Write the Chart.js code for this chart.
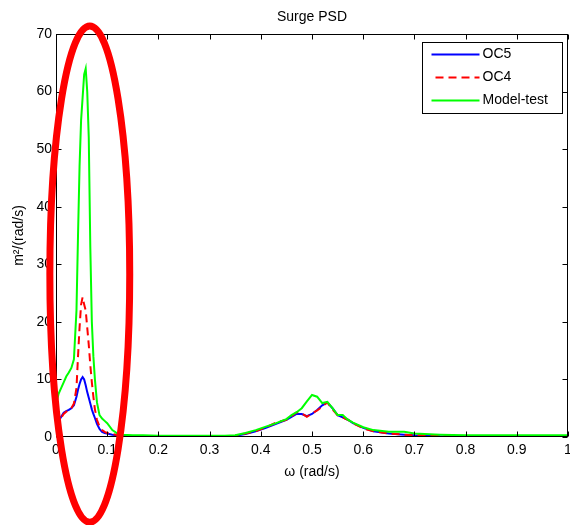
<!DOCTYPE html>
<html>
<head>
<meta charset="utf-8">
<script src="https://cdn.jsdelivr.net/npm/chart.js@4/dist/chart.umd.min.js"></script>
<style>body{margin:0;background:#fff}</style>
</head>
<body>
<canvas id="psd" width="570" height="525"></canvas>
<script>
// frequency axis (rad/s)
const omega = [0, 0.005, 0.01, 0.015, 0.02, 0.025, 0.03, 0.035, 0.04, 0.043, 0.046, 0.049, 0.052, 0.055, 0.058, 0.061, 0.064, 0.067, 0.07, 0.073, 0.076, 0.08, 0.085, 0.09, 0.095, 0.1, 0.11, 0.12, 0.13, 0.15, 0.17, 0.2, 0.25, 0.3, 0.33, 0.35, 0.37, 0.39, 0.41, 0.43, 0.45, 0.46, 0.47, 0.48, 0.49, 0.5, 0.51, 0.52, 0.53, 0.54, 0.55, 0.56, 0.57, 0.58, 0.6, 0.62, 0.65, 0.68, 0.7, 0.72, 0.75, 0.8, 0.9, 1.0];
const oc5 = [1.8, 2.8, 3.5, 4.2, 4.5, 4.7, 5.0, 5.5, 7.0, 8.2, 9.2, 10.0, 10.4, 10.0, 9.0, 7.8, 6.8, 5.8, 4.8, 4.0, 3.3, 2.3, 1.4, 0.9, 0.7, 0.6, 0.4, 0.3, 0.2, 0.1, 0.05, 0.05, 0.05, 0.05, 0.1, 0.2, 0.5, 1.0, 1.6, 2.3, 3.0, 3.5, 4.0, 4.0, 3.6, 4.0, 4.7, 5.5, 6.0, 5.0, 3.8, 3.4, 3.0, 2.4, 1.6, 1.0, 0.6, 0.4, 0.3, 0.25, 0.15, 0.1, 0.05, 0.05];
const oc4 = [1.5, 2.5, 3.3, 4.0, 4.4, 4.6, 5.0, 5.8, 8.5, 14, 19, 23, 24.3, 23, 22, 19, 16, 12.5, 9.5, 7, 4.8, 3.0, 1.8, 1.2, 0.9, 0.7, 0.5, 0.35, 0.25, 0.15, 0.1, 0.05, 0.05, 0.05, 0.1, 0.2, 0.6, 1.0, 1.7, 2.5, 3.0, 3.6, 4.3, 4.1, 3.5, 4.1, 4.6, 5.3, 6.0, 4.8, 3.8, 3.4, 3.0, 2.4, 1.5, 1.0, 0.6, 0.4, 0.3, 0.3, 0.15, 0.1, 0.05, 0.05];
const modelTest = [5.5, 7.5, 8.5, 9.5, 10.5, 11.2, 12.0, 13.5, 22, 35, 47, 55, 59, 63, 64, 60, 52, 33, 20, 14, 10, 6, 3.8, 3.2, 2.8, 2.4, 1.2, 0.6, 0.4, 0.3, 0.3, 0.2, 0.2, 0.2, 0.2, 0.3, 0.7, 1.2, 1.8, 2.4, 3.1, 3.8, 4.3, 5.0, 6.2, 7.3, 7.0, 5.9, 6.1, 5.0, 3.8, 3.8, 3.0, 2.5, 1.7, 1.2, 0.9, 0.9, 0.6, 0.5, 0.4, 0.3, 0.3, 0.3];
const xTicks = [0, 0.1, 0.2, 0.3, 0.4, 0.5, 0.6, 0.7, 0.8, 0.9, 1];
const yTicks = [0, 10, 20, 30, 40, 50, 60, 70];

const font = {family: 'Liberation Sans, Arial, sans-serif', size: 14};

function pts(vals) {
  return omega.map((w, i) => ({x: w, y: vals[i]}));
}

// box, inward ticks, title, legend and the red highlight ellipse
const decor = {
  id: 'decor',
  afterDraw(chart) {
    const {ctx, chartArea: a, scales: {x, y}} = chart;
    const L = Math.round(a.left) + 0.5, R = Math.round(a.right) - 0.5;
    const T = Math.round(a.top) + 0.5, B = Math.round(a.bottom) - 0.5;
    ctx.save();
    ctx.strokeStyle = '#000';
    ctx.lineWidth = 1;
    ctx.strokeRect(L, T, R - L, B - T);
    ctx.beginPath();
    xTicks.forEach(v => {
      const p = Math.round(x.getPixelForValue(v)) + 0.5;
      ctx.moveTo(p, B); ctx.lineTo(p, B - 5);
      ctx.moveTo(p, T); ctx.lineTo(p, T + 5);
    });
    yTicks.forEach(v => {
      const p = Math.round(y.getPixelForValue(v)) + 0.5;
      ctx.moveTo(L, p); ctx.lineTo(L + 5, p);
      ctx.moveTo(R, p); ctx.lineTo(R - 5, p);
    });
    ctx.stroke();

    // title
    ctx.fillStyle = '#000';
    ctx.font = '14px ' + font.family;
    ctx.textAlign = 'center';
    ctx.textBaseline = 'middle';
    ctx.fillText('Surge PSD', (a.left + a.right) / 2, 17);

    // legend
    const lw = 140, lh = 71;
    const lx = Math.round(a.right) - 6 - lw + 0.5, ly = Math.round(a.top) + 8 + 0.5;
    ctx.fillStyle = '#fff';
    ctx.fillRect(lx, ly, lw, lh);
    ctx.strokeStyle = '#000';
    ctx.strokeRect(lx, ly, lw, lh);
    ctx.textAlign = 'left';
    chart.data.datasets.forEach((ds, i) => {
      const cy = ly + 12 + i * 23;
      ctx.beginPath();
      ctx.strokeStyle = ds.borderColor;
      ctx.lineWidth = 2;
      ctx.setLineDash(ds.borderDash || []);
      const x0 = ds.borderDash ? lx + 13 : lx + 9;
      ctx.moveTo(x0, cy); ctx.lineTo(lx + 57, cy);
      ctx.stroke();
      ctx.setLineDash([]);
      ctx.fillStyle = '#000';
      ctx.fillText(ds.label, lx + 60, cy);
    });

    // highlight ellipse
    const cx = x.getPixelForValue(0.066), cyE = y.getPixelForValue(28.3);
    const rx = x.getPixelForValue(0.066 + 0.078) - cx;
    const ry = cyE - y.getPixelForValue(28.3 + 43.1);
    ctx.beginPath();
    ctx.strokeStyle = '#ff0000';
    ctx.lineWidth = 7;
    ctx.ellipse(cx, cyE, rx, ry, 0, 0, Math.PI * 2);
    ctx.stroke();
    ctx.restore();
  }
};

new Chart(document.getElementById('psd'), {
  type: 'line',
  data: {
    datasets: [
      {label: 'OC5', data: pts(oc5), borderColor: '#0000ff', order: 3},
      {label: 'OC4', data: pts(oc4), borderColor: '#ff0000', borderDash: [8, 5], order: 2},
      {label: 'Model-test', data: pts(modelTest), borderColor: '#00ff00', order: 1}
    ]
  },
  options: {
    responsive: false,
    animation: false,
    layout: {padding: {top: 34, right: 2, left: 0, bottom: 0}},
    elements: {
      point: {radius: 0},
      line: {borderWidth: 2, tension: 0}
    },
    plugins: {
      legend: {display: false},
      title: {display: false},
      tooltip: {enabled: false}
    },
    scales: {
      x: {
        type: 'linear',
        min: 0,
        max: 1,
        afterBuildTicks: s => { s.ticks = xTicks.map(v => ({value: v})); },
        afterFit: s => { s.height = 88; s.paddingLeft = 0; s.paddingRight = 0; },
        ticks: {
          color: '#000',
          font: font,
          padding: 5,
          maxRotation: 0,
          callback: v => String(+v.toFixed(1))
        },
        grid: {display: false, drawTicks: false},
        border: {display: false},
        title: {display: true, text: 'ω (rad/s)', color: '#000', font: font, padding: {top: 0, bottom: 44}}
      },
      y: {
        min: 0,
        max: 70,
        afterBuildTicks: s => { s.ticks = yTicks.map(v => ({value: v})); },
        afterFit: s => { s.width = 56; },
        ticks: {color: '#000', font: font, padding: 4},
        grid: {display: false, drawTicks: false},
        border: {display: false},
        title: {display: true, text: 'm²/(rad/s)', color: '#000', font: font, padding: {top: 11, bottom: 0}}
      }
    }
  },
  plugins: [decor]
});
</script>
</body>
</html>
